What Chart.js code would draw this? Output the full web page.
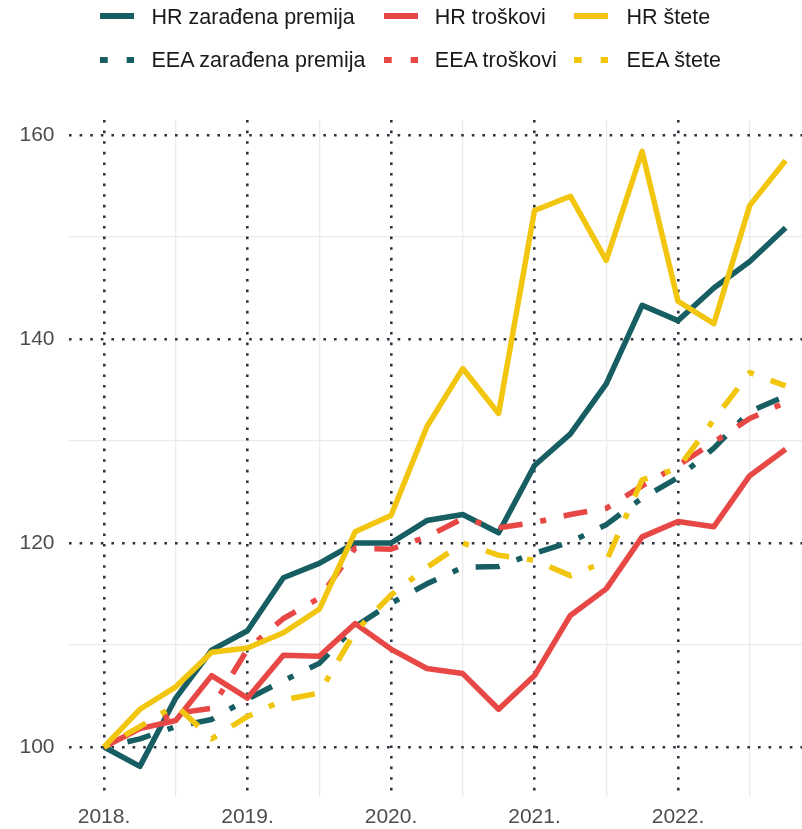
<!DOCTYPE html>
<html>
<head>
<meta charset="utf-8">
<script src="https://cdn.jsdelivr.net/npm/chart.js@4.4.1/dist/chart.umd.min.js"></script>
<style>
  html, body { margin: 0; padding: 0; background: #fff; }
  #wrap { position: relative; width: 802px; height: 829px; overflow: hidden; font-family: "Liberation Sans", Arial, sans-serif; }
  canvas { position: absolute; left: 0; top: 0; }
  .key { position: absolute; }
  .txt { position: absolute; height: 21.5px; font-size: 21.5px; line-height: 21.5px; color: #1a1a1a; white-space: nowrap; }
</style>
</head>
<body>
<div id="wrap">
  <canvas id="chartCanvasId" width="802" height="829"></canvas>
  <div id="legend"></div>
</div>
<script>
"use strict";

// quarters 2018 Q1 .. 2022 Q4, index = position on x axis
const quarters = [
    "2018Q1", "2018Q2", "2018Q3", "2018Q4",
    "2019Q1", "2019Q2", "2019Q3", "2019Q4",
    "2020Q1", "2020Q2", "2020Q3", "2020Q4",
    "2021Q1", "2021Q2", "2021Q3", "2021Q4",
    "2022Q1", "2022Q2", "2022Q3", "2022Q4",
];

const hrPremija   = [100, 98.1, 104.8, 109.5, 111.4, 116.6, 118.0, 120.0, 120.0, 122.2, 122.8, 121.0, 127.6, 130.7, 135.6, 143.3, 141.8, 145.0, 147.6, 150.9];
const hrTroskovi  = [100, 101.8, 102.6, 107.0, 104.8, 109.0, 108.9, 112.1, 109.6, 107.7, 107.2, 103.7, 107.0, 112.9, 115.5, 120.6, 122.1, 121.6, 126.6, 129.2];
const hrStete     = [100, 103.7, 105.9, 109.3, 109.7, 111.2, 113.5, 121.1, 122.7, 131.4, 137.1, 132.7, 152.6, 154.0, 147.7, 158.4, 143.7, 141.5, 153.1, 157.5];
const eeaPremija  = [100, 100.8, 102.0, 102.7, 104.7, 106.5, 108.2, 111.8, 114.1, 116.0, 117.6, 117.7, 119.0, 120.1, 121.8, 124.4, 126.4, 129.3, 132.9, 134.4];
const eeaTroskovi = [100, 101.9, 103.3, 103.8, 109.6, 112.6, 114.6, 119.5, 119.4, 120.6, 122.4, 121.5, 122.0, 122.8, 123.4, 125.6, 127.6, 129.9, 132.2, 133.8];
const eeaStete    = [100, 102.0, 104.1, 100.8, 103.0, 104.6, 105.3, 111.3, 114.9, 117.6, 120.0, 118.8, 118.3, 116.8, 118.2, 126.2, 127.3, 132.1, 136.7, 135.4];

const yearTicks = [0, 4, 8, 12, 16];
const yearLabels = ["2018.", "2019.", "2020.", "2021.", "2022."];
const halfYearTicks = [2, 6, 10, 14, 18];
const yTicks = [100, 120, 140, 160];
const yMinorTicks = [110, 130, 150];

const teal = "#165e62";
const red = "#e84845";
const yellow = "#f2c50e";
const dotDash = [6, 18, 24, 18];

const series = [
    { label: "HR zarađena premija", data: hrPremija, color: teal, dashed: false, order: 4 },
    { label: "HR troškovi", data: hrTroskovi, color: red, dashed: false, order: 2 },
    { label: "HR štete", data: hrStete, color: yellow, dashed: false, order: 0 },
    { label: "EEA zarađena premija", data: eeaPremija, color: teal, dashed: true, order: 5 },
    { label: "EEA troškovi", data: eeaTroskovi, color: red, dashed: true, order: 3 },
    { label: "EEA štete", data: eeaStete, color: yellow, dashed: true, order: 1 },
];

// legend, 2 rows x 3 columns like the original
const legendCols = [
    { key: 100, text: 151.5 },
    { key: 383.6, text: 434.8 },
    { key: 574, text: 626.5 },
];
const legendRows = [
    { key: 13.3, text: 6.7 },
    { key: 57, text: 50.0 },
];
const legendBox = document.getElementById("legend");
series.forEach((s, i) => {
    const col = legendCols[i % 3];
    const row = legendRows[Math.floor(i / 3)];
    const dash = s.dashed ? ' stroke-dasharray="7.7 19 24 19"' : "";
    const key = document.createElement("div");
    key.className = "key";
    key.style.left = col.key + "px";
    key.style.top = row.key + "px";
    key.innerHTML = `<svg width="34" height="6" style="display:block"><line x1="0" y1="3" x2="34" y2="3" stroke="${s.color}" stroke-width="6"${dash}/></svg>`;
    const txt = document.createElement("div");
    txt.className = "txt";
    txt.style.left = col.text + "px";
    txt.style.top = row.text + "px";
    txt.textContent = s.label;
    legendBox.appendChild(key);
    legendBox.appendChild(txt);
});

const xMin = -0.976;
const xMax = 19.457;
const gridDark = "#2d3440";
const gridLight = "#ebebeb";
const tickFont = { family: "'Liberation Sans', Arial, sans-serif", size: 21 };

const chartContext = document.getElementById("chartCanvasId").getContext("2d");
const myChart = new Chart(chartContext, {
    type: "line",
    data: {
        datasets: series.map(s => ({
            label: s.label,
            data: s.data.map((v, i) => ({ x: i, y: v })),
            borderColor: s.color,
            backgroundColor: s.color,
            borderWidth: 5.5,
            borderDash: s.dashed ? dotDash : [],
            borderCapStyle: "butt",
            borderJoinStyle: "round",
            pointRadius: 0,
            tension: 0,
            fill: false,
            order: s.order,
        })),
    },
    options: {
        responsive: false,
        animation: false,
        devicePixelRatio: 1,
        layout: { padding: { top: 120, left: 0, right: 0, bottom: 0 } },
        plugins: {
            legend: { display: false },
            tooltip: { enabled: false },
        },
        scales: {
            xMinor: {
                type: "linear",
                position: "bottom",
                min: xMin,
                max: xMax,
                afterBuildTicks: axis => { axis.ticks = halfYearTicks.map(v => ({ value: v })); },
                afterFit: axis => { axis.height = 0; },
                ticks: { display: false },
                grid: { color: gridLight, lineWidth: 1.3, drawTicks: false },
                border: { display: false },
            },
            yMinor: {
                type: "linear",
                position: "left",
                min: 95.1,
                max: 161.47,
                afterBuildTicks: axis => { axis.ticks = yMinorTicks.map(v => ({ value: v })); },
                afterFit: axis => { axis.width = 0; },
                ticks: { display: false },
                grid: { color: gridLight, lineWidth: 1.3, drawTicks: false },
                border: { display: false },
            },
            x: {
                type: "linear",
                position: "bottom",
                min: xMin,
                max: xMax,
                afterBuildTicks: axis => { axis.ticks = yearTicks.map(v => ({ value: v })); },
                afterFit: axis => { axis.height = 32; },
                ticks: {
                    color: "#4d4d4d",
                    font: tickFont,
                    padding: 8,
                    maxRotation: 0,
                    autoSkip: false,
                    callback: value => yearLabels[yearTicks.indexOf(value)],
                },
                grid: { color: gridDark, lineWidth: 2.6, drawTicks: false },
                border: { display: false, dash: [2.6, 8] },
            },
            y: {
                type: "linear",
                position: "left",
                min: 95.1,
                max: 161.47,
                afterBuildTicks: axis => { axis.ticks = yTicks.map(v => ({ value: v })); },
                afterFit: axis => { axis.width = 69; },
                ticks: {
                    color: "#4d4d4d",
                    font: tickFont,
                    padding: 14.5,
                },
                grid: { color: gridDark, lineWidth: 2.6, drawTicks: false },
                border: { display: false, dash: [2.6, 8] },
            },
        },
    },
});
</script>
</body>
</html>
